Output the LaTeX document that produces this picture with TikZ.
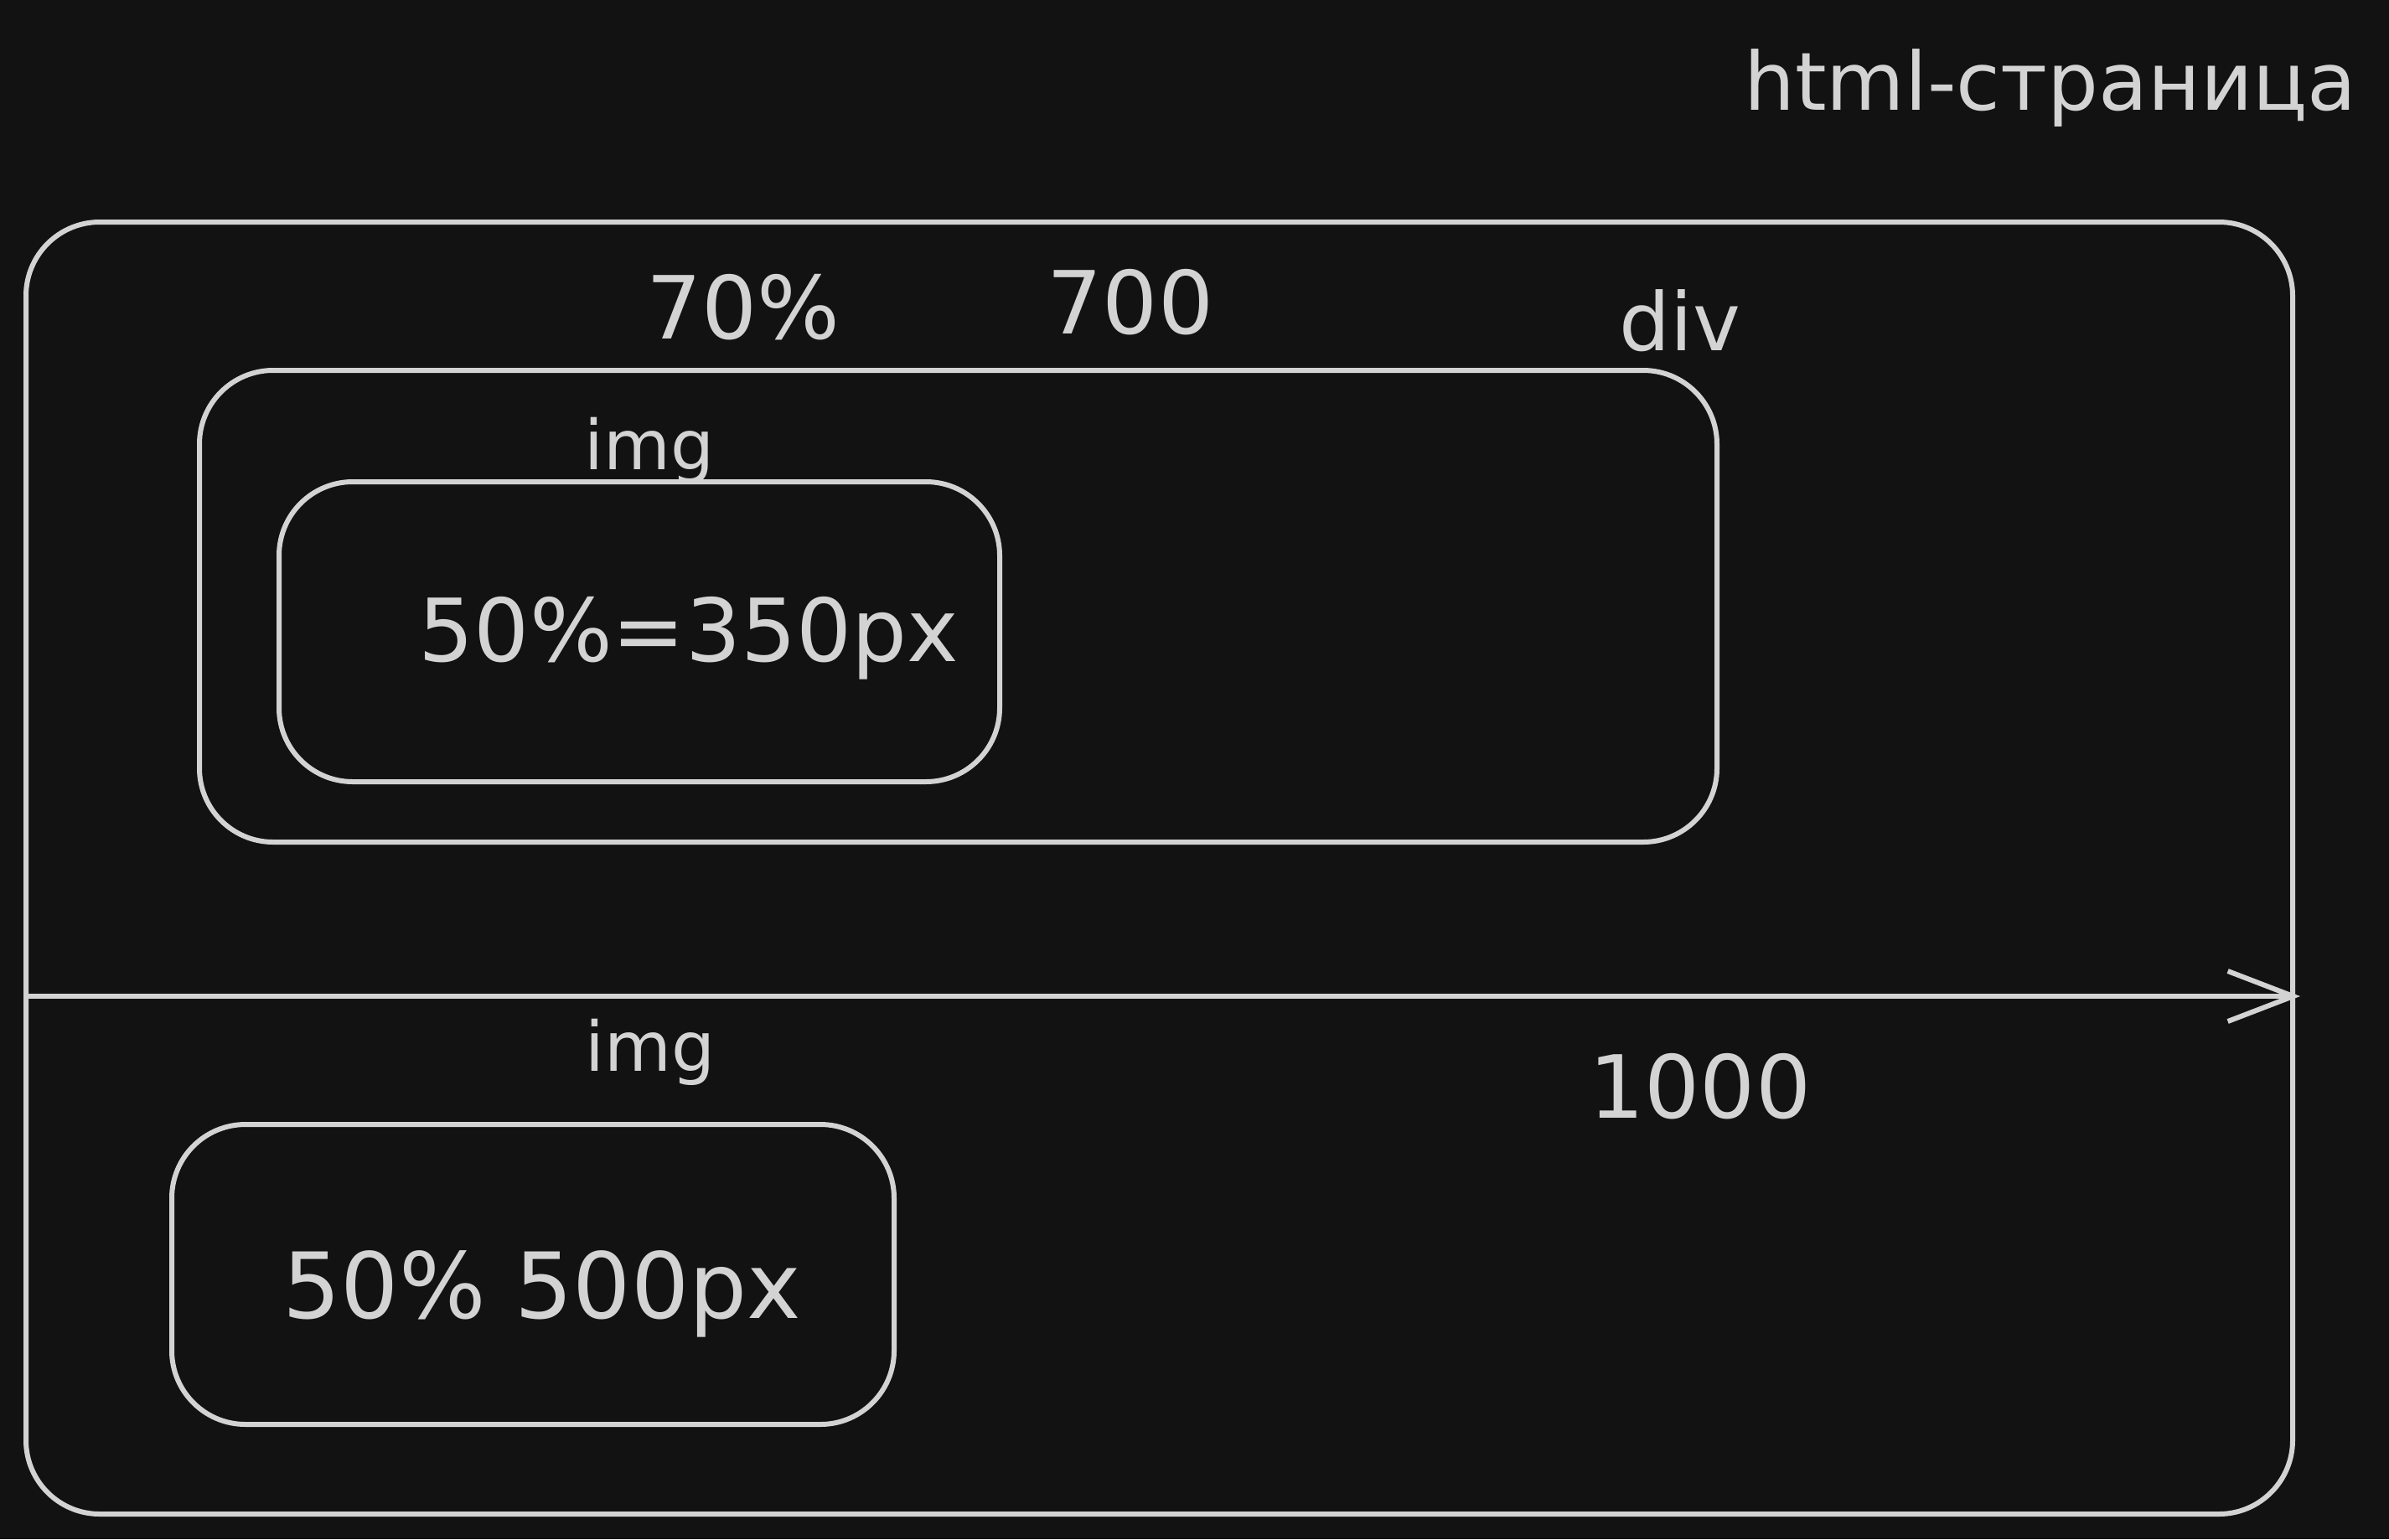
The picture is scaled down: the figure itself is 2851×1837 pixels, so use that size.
\documentclass[tikz,border=0pt]{standalone}
\usepackage{fontspec}
\setmainfont{DejaVu Sans}
\usetikzlibrary{arrows.meta}
\definecolor{bg}{HTML}{121212}
\definecolor{ink}{HTML}{D3D3D3}
\tikzset{
  box/.style={draw=ink, line width=6pt, rounded corners=88pt, inner sep=0pt},
  lbl/.style={text=ink, inner sep=0pt, anchor=base},
  big/.style={lbl, font=\fontsize{104}{110}\selectfont},
  small/.style={lbl, font=\fontsize{82}{90}\selectfont},
}
\begin{document}
\begin{tikzpicture}[x=1pt,y=-1pt]
\fill[bg] (0,0) rectangle (2851,1837);
\useasboundingbox (0,0) rectangle (2851,1837);
% boxes
\node[box, minimum width=2705pt, minimum height=1542pt] (page) at (1383.5,1036) {};
\node[box, minimum width=1811pt, minimum height=563pt] (div) at (1143.5,723.5) {};
\node[box, minimum width=860pt, minimum height=358pt] (img1) at (763,754) {};
\node[box, minimum width=862pt, minimum height=358pt] (img2) at (636,1521) {};
% arrow
\coordinate (a0) at (31,1189);
\coordinate (a1) at (2745,1189);
\draw[ink, line width=6pt, -{Straight Barb[length=78pt,width=60pt,line width=6pt]}] (a0) -- (a1);
% labels
\node[small, font=\fontsize{96}{100}\selectfont] (title) at (2447,131) {html-страница};
\node[big] (p70) at (887,404) {70\%};
\node[big] (w700) at (1349,398) {700};
\node[big, font=\fontsize{96}{100}\selectfont] (divl) at (2005,418) {div};
\node[small] (imgl1) at (775,560) {img};
\node[big] (t1) at (822,789) {50\%=350px};
\node[small] (imgl2) at (776,1278) {img};
\node[big] (w1000) at (2029,1334) {1000};
\node[big, font=\fontsize{109}{112}\selectfont] (t2) at (647,1573) {50\% 500px};
\end{tikzpicture}
\end{document}
